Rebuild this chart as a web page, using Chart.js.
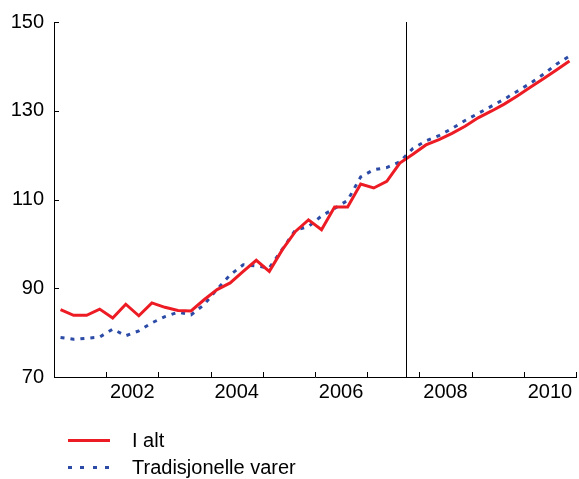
<!DOCTYPE html>
<html>
<head>
<meta charset="utf-8">
<script src="https://cdn.jsdelivr.net/npm/chart.js@4/dist/chart.umd.min.js"></script>
<style>
    body { margin: 0; background: #fff; font-family: "Liberation Sans", Arial, sans-serif; }
    #wrap { position: relative; width: 579px; height: 479px; }
    #legend { position: absolute; left: 68px; top: 427px; font-size: 20px; color: #000; }
    .rad { height: 27px; display: flex; align-items: center; }
    .strek { width: 42px; height: 3px; margin-right: 22px; }
</style>
</head>
<body>
<div id="wrap">
    <canvas id="myChart" width="579" height="479"></canvas>
    <div id="legend">
        <div class="rad"><div class="strek" style="background:#ED1C24"></div>I alt</div>
        <div class="rad"><div class="strek" style="background:repeating-linear-gradient(90deg,#2B4BA6 0 4px,transparent 4px 12.3px)"></div>Tradisjonelle varer</div>
    </div>
</div>
<script>
// kvartalstall 2001K1 - 2010K4
const startAar = 2001;
const sluttAar = 2011;
const skillelinje = 2007.75;

const iAlt = [
    85.2, 83.9, 83.9, 85.3,
    83.3, 86.4, 83.8, 86.7,
    85.7, 85.0, 84.9, 87.4,
    89.7, 91.2, 93.8, 96.3,
    93.8, 98.7, 102.8, 105.4,
    103.2, 108.3, 108.3, 113.5,
    112.6, 114.1, 118.2, 120.2,
    122.3, 123.5, 124.9, 126.5,
    128.4, 129.9, 131.5, 133.3,
    135.3, 137.2, 139.2, 141.2
];

const tradisjonelle = [
    78.9, 78.5, 78.7, 79.0,
    80.8, 79.3, 80.4, 82.2,
    83.6, 84.6, 84.0, 86.3,
    89.8, 93.0, 95.3, 95.0,
    94.6, 98.8, 103.1, 103.9,
    106.3, 108.0, 109.8, 115.1,
    116.7, 117.2, 118.5, 121.5,
    123.2, 124.4, 126.0, 127.8,
    129.4, 131.0, 132.6, 134.4,
    136.2, 138.2, 140.5, 142.3
];

const yTicks = [70, 90, 110, 130, 150];

function tilPunkter(verdier) {
    return verdier.map((v, i) => ({ x: startAar + (i + 0.5) / 4, y: v }));
}

const innoverTicks = {
    id: 'innoverTicks',
    afterDraw(chart) {
        const ctx = chart.ctx;
        const xs = chart.scales.x;
        const ys = chart.scales.y;
        const area = chart.chartArea;
        ctx.save();
        ctx.strokeStyle = '#000';
        ctx.lineWidth = 1;
        ctx.beginPath();
        for (let a = startAar + 1; a <= sluttAar; a++) {
            const px = Math.round(xs.getPixelForValue(a)) + 0.5;
            ctx.moveTo(px, area.bottom);
            ctx.lineTo(px, area.bottom - 5);
        }
        yTicks.forEach(t => {
            const py = Math.round(ys.getPixelForValue(t)) + 0.5;
            ctx.moveTo(area.left, py);
            ctx.lineTo(area.left + 5, py);
        });
        // vertikal linje
        const lx = Math.round(xs.getPixelForValue(skillelinje)) + 0.5;
        ctx.moveTo(lx, area.top);
        ctx.lineTo(lx, area.bottom);
        ctx.stroke();
        ctx.restore();
    }
};

const ctx = document.getElementById('myChart');

new Chart(ctx, {
    type: 'line',
    data: {
        datasets: [{
            label: 'I alt',
            data: tilPunkter(iAlt),
            borderColor: '#ED1C24',
            borderWidth: 3,
            pointRadius: 0,
            tension: 0
        }, {
            label: 'Tradisjonelle varer',
            data: tilPunkter(tradisjonelle),
            borderColor: '#2B4BA6',
            borderWidth: 3,
            borderDash: [4, 6],
            pointRadius: 0,
            tension: 0
        }]
    },
    options: {
        responsive: false,
        animation: false,
        layout: { padding: { top: 20, right: 1, bottom: 72, left: 0 } },
        plugins: {
            legend: { display: false },
            tooltip: { enabled: false }
        },
        scales: {
            x: {
                type: 'linear',
                min: startAar,
                max: sluttAar,
                afterBuildTicks: function(scale) {
                    var t = [];
                    for (var a = startAar; a <= sluttAar; a++) {
                        t.push({ value: a });
                        if (a < sluttAar && a % 2 === 0) t.push({ value: a + 0.5 });
                    }
                    scale.ticks = t;
                },
                afterFit: function(scale) { scale.height = 30; },
                grid: { display: false, drawTicks: false },
                border: { color: '#000', width: 1 },
                ticks: {
                    autoSkip: false,
                    maxRotation: 0,
                    padding: 3,
                    color: '#000',
                    font: { family: 'Liberation Sans', size: 20 },
                    callback: function(v) {
                        return (v % 1 !== 0) ? String(v - 0.5) : '';
                    }
                }
            },
            y: {
                min: 70,
                max: 150,
                afterBuildTicks: function(scale) {
                    scale.ticks = yTicks.map(v => ({ value: v }));
                },
                afterFit: function(scale) { scale.width = 54; },
                grid: { display: false, drawTicks: false },
                border: { color: '#000', width: 1 },
                ticks: {
                    padding: 10,
                    color: '#000',
                    font: { family: 'Liberation Sans', size: 20 }
                }
            }
        }
    },
    plugins: [innoverTicks]
});
</script>
</body>
</html>
